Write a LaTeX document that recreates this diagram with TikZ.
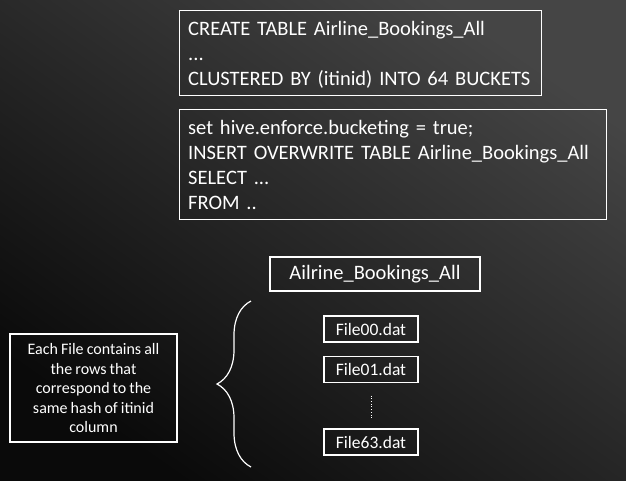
\documentclass[tikz,border=0pt]{standalone}
\usepackage{fontspec}
\setmainfont{Carlito}[WordSpace=0.85]
\usetikzlibrary{positioning,decorations.pathreplacing}

\begin{document}
\begin{tikzpicture}[
  x=1pt, y=-1pt,
  every node/.style={text=white!95},
  frame/.style={draw=white!85, line width=1.1pt, anchor=north west},
  sqltext/.style={align=left, inner sep=0pt, anchor=north west, text width=430pt, font=\fontsize{20.5}{25}\selectfont},
  tablebox/.style={draw=white!85, line width=1.1pt, minimum width=210pt, minimum height=34pt, font=\fontsize{20.5}{22}\selectfont},
  filebox/.style={draw=white!85, line width=1.1pt, minimum width=94pt, minimum height=26pt, font=\fontsize{17.5}{18}\selectfont},
  notebox/.style={draw=white!85, line width=1.1pt, minimum width=167pt, minimum height=108pt, align=center, font=\fontsize{16}{19.5}\selectfont}
]
% background
\shade[shading=axis, left color=black!73, right color=black!96, shading angle=-35] (0,0) rectangle (626,480);
\useasboundingbox (0,0) rectangle (626,480);

% SQL statements
\node[frame, minimum width=362pt, minimum height=85pt] (create) at (179,10) {};
\node[sqltext] (createtxt) at ([xshift=9pt,yshift=-11pt]create.north west) {CREATE TABLE Airline\_Bookings\_All\\...\\CLUSTERED BY (itinid) INTO 64 BUCKETS};
\node[frame, minimum width=427pt, minimum height=110pt] (insert) at (179,109) {};
\node[sqltext] (inserttxt) at ([xshift=9pt,yshift=-11pt]insert.north west) {set hive.enforce.bucketing = true;\\INSERT OVERWRITE TABLE Airline\_Bookings\_All\\SELECT ...\\FROM ..};

% table and its bucket files
\node[tablebox] (tbl) at (375,274) {Ailrine\_Bookings\_All};
\node[filebox] (f00) at (371,329) {File00.dat};
\node[filebox, below=13pt of f00] (f01) {File01.dat};
\node[filebox] (f63) at (371,442) {File63.dat};
\draw[white!80, line width=0.7pt, dotted] ([yshift=-13pt]f01.south) -- ([yshift=9pt]f63.north);

% brace and note
\coordinate (brtop) at (251,301);
\coordinate (brbot) at (251,467);
\draw[white!85, line width=1.2pt, decorate, decoration={brace, amplitude=34pt, aspect=0.5}] (brbot) -- (brtop);
\node[notebox] (note) at (93.5,388) {Each File contains all\\the rows that\\correspond to the\\same hash of itinid\\column};
\end{tikzpicture}
\end{document}
